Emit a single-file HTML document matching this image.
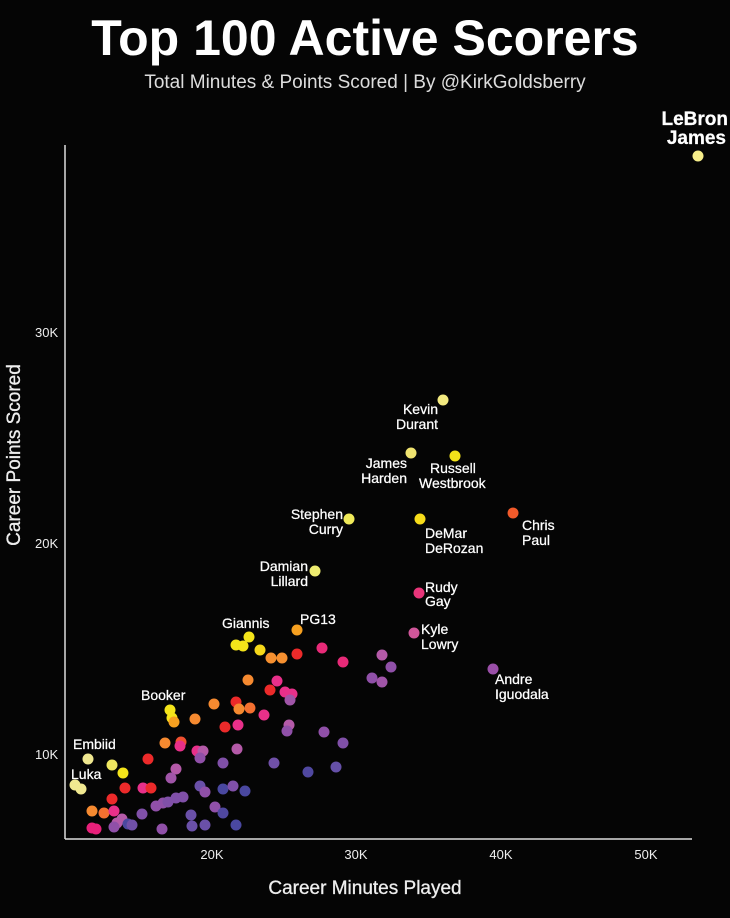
<!DOCTYPE html>
<html><head><style>
body{margin:0;background:#050505;width:730px;height:913px;overflow:hidden;font-family:"Liberation Sans",sans-serif}
</style></head><body>
<svg width="730" height="913" xmlns="http://www.w3.org/2000/svg" font-family="Liberation Sans, sans-serif">
<rect width="730" height="913" fill="#050505"/>
<text x="365" y="55" fill="#fff" font-size="50" font-weight="900" text-anchor="middle">Top 100 Active Scorers</text>
<text x="365" y="88" fill="#ddd" font-size="19" text-anchor="middle">Total Minutes &amp; Points Scored |  By @KirkGoldsberry</text>
<line x1="65" y1="145" x2="65" y2="839" stroke="#ddd" stroke-width="1.5"/>
<line x1="65" y1="839" x2="692" y2="839" stroke="#ddd" stroke-width="1.5"/>
<g fill="#eee" font-size="13">
<text x="212" y="859" text-anchor="middle">20K</text><text x="356" y="859" text-anchor="middle">30K</text>
<text x="501" y="859" text-anchor="middle">40K</text><text x="646" y="859" text-anchor="middle">50K</text>
<text x="35" y="759">10K</text><text x="35" y="548">20K</text><text x="35" y="337">30K</text>
</g>
<text x="365" y="894" fill="#eee" font-size="19" stroke="#eee" stroke-width="0.3" text-anchor="middle">Career Minutes Played</text>
<text transform="translate(20,455) rotate(-90)" fill="#eee" font-size="19" stroke="#eee" stroke-width="0.3" text-anchor="middle">Career Points Scored</text>
<g id="pts">
<circle cx="698" cy="156" r="5.5" fill="#f7ee8a"/>
<circle cx="443" cy="400" r="5.5" fill="#f3ea80"/>
<circle cx="411" cy="453" r="5.5" fill="#f0e470"/>
<circle cx="455" cy="456" r="5.5" fill="#f4e31a"/>
<circle cx="349" cy="519" r="5.5" fill="#f0ea5a"/>
<circle cx="420" cy="519" r="5.5" fill="#f7dc1a"/>
<circle cx="513" cy="513" r="5.5" fill="#f25a2a"/>
<circle cx="315" cy="571" r="5.5" fill="#eeec70"/>
<circle cx="419" cy="593" r="5.5" fill="#e8357a"/>
<circle cx="414" cy="633" r="5.5" fill="#d0569a"/>
<circle cx="493" cy="669" r="5.5" fill="#9a4fa8"/>
<circle cx="297" cy="630" r="5.5" fill="#f6a020"/>
<circle cx="236" cy="645" r="5.5" fill="#f4e41a"/><circle cx="243" cy="646" r="5.5" fill="#f4e41a"/>
<circle cx="249" cy="637" r="5.5" fill="#f4e41a"/><circle cx="260" cy="650" r="5.5" fill="#f6d81a"/>
<circle cx="271" cy="658" r="5.5" fill="#f69030"/><circle cx="282" cy="658" r="5.5" fill="#f69030"/>
<circle cx="297" cy="654" r="5.5" fill="#ec2a2a"/><circle cx="322" cy="648" r="5.5" fill="#e82a78"/>
<circle cx="343" cy="662" r="5.5" fill="#e82a78"/><circle cx="382" cy="655" r="5.5" fill="#b45aa8"/>
<circle cx="391" cy="667" r="5.5" fill="#9050a8"/><circle cx="372" cy="678" r="5.5" fill="#9050a8"/>
<circle cx="382" cy="682" r="5.5" fill="#a055a8"/>
<circle cx="248" cy="680" r="5.5" fill="#f68a30"/><circle cx="277" cy="681" r="5.5" fill="#e8308a"/>
<circle cx="270" cy="690" r="5.5" fill="#ec2a2a"/><circle cx="285" cy="692" r="5.5" fill="#e8308a"/>
<circle cx="292" cy="694" r="5.5" fill="#e8308a"/><circle cx="290" cy="700" r="5.5" fill="#a055a8"/>
<circle cx="214" cy="704" r="5.5" fill="#f68a30"/><circle cx="236" cy="702" r="5.5" fill="#ec2a2a"/>
<circle cx="239" cy="709" r="5.5" fill="#f68a30"/><circle cx="250" cy="708" r="5.5" fill="#f47030"/>
<circle cx="264" cy="715" r="5.5" fill="#e8308a"/><circle cx="225" cy="727" r="5.5" fill="#ec2a2a"/>
<circle cx="238" cy="725" r="5.5" fill="#e8308a"/><circle cx="289" cy="725" r="5.5" fill="#b45aa8"/>
<circle cx="287" cy="731" r="5.5" fill="#9050a8"/><circle cx="324" cy="732" r="5.5" fill="#9050a8"/>
<circle cx="343" cy="743" r="5.5" fill="#8050a8"/>
<circle cx="170" cy="710" r="5.5" fill="#f4e41a"/><circle cx="172" cy="718" r="5.5" fill="#f4e41a"/>
<circle cx="174" cy="722" r="5.5" fill="#f6a020"/><circle cx="195" cy="719" r="5.5" fill="#f68a30"/>
<circle cx="165" cy="743" r="5.5" fill="#f68a30"/><circle cx="181" cy="742" r="5.5" fill="#f05030"/>
<circle cx="180" cy="746" r="5.5" fill="#e8308a"/><circle cx="197" cy="751" r="5.5" fill="#e8308a"/>
<circle cx="203" cy="751" r="5.5" fill="#b45aa8"/><circle cx="200" cy="758" r="5.5" fill="#9050a8"/>
<circle cx="237" cy="749" r="5.5" fill="#b45aa8"/>
<circle cx="148" cy="759" r="5.5" fill="#ec2a2a"/><circle cx="88" cy="759" r="5.5" fill="#f0e890"/>
<circle cx="112" cy="765" r="5.5" fill="#f0e860"/><circle cx="123" cy="773" r="5.5" fill="#f4e41a"/>
<circle cx="176" cy="769" r="5.5" fill="#b45aa8"/><circle cx="171" cy="778" r="5.5" fill="#a055a8"/>
<circle cx="223" cy="763" r="5.5" fill="#8050a8"/><circle cx="274" cy="763" r="5.5" fill="#7050a8"/>
<circle cx="308" cy="772" r="5.5" fill="#5048a0"/><circle cx="336" cy="767" r="5.5" fill="#6550a8"/>
<circle cx="75" cy="785" r="5.5" fill="#f0e890"/><circle cx="81" cy="789" r="5.5" fill="#f0e890"/>
<circle cx="125" cy="788" r="5.5" fill="#ec2a2a"/><circle cx="143" cy="788" r="5.5" fill="#e8308a"/>
<circle cx="151" cy="788" r="5.5" fill="#ec2a2a"/><circle cx="200" cy="786" r="5.5" fill="#6a50a8"/>
<circle cx="205" cy="792" r="5.5" fill="#9050a8"/><circle cx="223" cy="789" r="5.5" fill="#4a48a0"/>
<circle cx="233" cy="786" r="5.5" fill="#8050a8"/><circle cx="245" cy="791" r="5.5" fill="#4a48a0"/>
<circle cx="112" cy="799" r="5.5" fill="#ec2a2a"/><circle cx="92" cy="811" r="5.5" fill="#f68a30"/>
<circle cx="104" cy="813" r="5.5" fill="#f47030"/><circle cx="114" cy="811" r="5.5" fill="#e8308a"/>
<circle cx="142" cy="814" r="5.5" fill="#8050a8"/><circle cx="156" cy="806" r="5.5" fill="#9050a8"/>
<circle cx="163" cy="803" r="5.5" fill="#9050a8"/><circle cx="168" cy="802" r="5.5" fill="#8050a8"/>
<circle cx="176" cy="798" r="5.5" fill="#8050a8"/><circle cx="183" cy="797" r="5.5" fill="#8050a8"/>
<circle cx="215" cy="807" r="5.5" fill="#9050a8"/><circle cx="223" cy="813" r="5.5" fill="#5048a0"/>
<circle cx="191" cy="815" r="5.5" fill="#6a50a8"/>
<circle cx="117" cy="823" r="5.5" fill="#b45aa8"/><circle cx="122" cy="819" r="5.5" fill="#b45aa8"/>
<circle cx="128" cy="824" r="5.5" fill="#4a48a0"/><circle cx="132" cy="825" r="5.5" fill="#7050a8"/>
<circle cx="192" cy="826" r="5.5" fill="#6a50a8"/><circle cx="205" cy="825" r="5.5" fill="#6a50a8"/>
<circle cx="236" cy="825" r="5.5" fill="#4a48a0"/>
<circle cx="92" cy="828" r="5.5" fill="#e8207a"/><circle cx="96" cy="829" r="5.5" fill="#e8207a"/>
<circle cx="114" cy="827" r="5.5" fill="#9050a8"/><circle cx="162" cy="829" r="5.5" fill="#9050a8"/>
</g>
<g fill="#fff" font-size="14" stroke="#fff" stroke-width="0.25">
<text x="728" y="125" font-size="19" font-weight="bold" text-anchor="end">LeBron</text>
<text x="726" y="144" font-size="19" font-weight="bold" text-anchor="end">James</text>
<text x="438" y="414" text-anchor="end">Kevin</text><text x="438" y="429" text-anchor="end">Durant</text>
<text x="407" y="468" text-anchor="end">James</text><text x="407" y="483" text-anchor="end">Harden</text>
<text x="430" y="473">Russell</text><text x="419" y="488">Westbrook</text>
<text x="343" y="519" text-anchor="end">Stephen</text><text x="343" y="534" text-anchor="end">Curry</text>
<text x="425" y="538">DeMar</text><text x="425" y="553">DeRozan</text>
<text x="522" y="530">Chris</text><text x="522" y="545">Paul</text>
<text x="308" y="571" text-anchor="end">Damian</text><text x="308" y="586" text-anchor="end">Lillard</text>
<text x="425" y="592">Rudy</text><text x="425" y="606">Gay</text>
<text x="421" y="634">Kyle</text><text x="421" y="649">Lowry</text>
<text x="495" y="684">Andre</text><text x="495" y="699">Iguodala</text>
<text x="222" y="628">Giannis</text><text x="300" y="624">PG13</text>
<text x="141" y="700">Booker</text><text x="73" y="749">Embiid</text><text x="71" y="779">Luka</text>
</g>
</svg>
</body></html>
